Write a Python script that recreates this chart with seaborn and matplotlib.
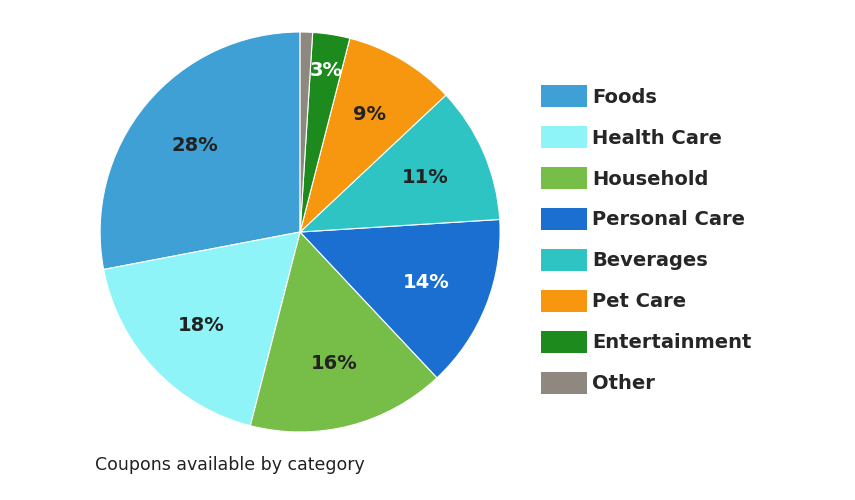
import matplotlib
matplotlib.use("Agg")
import matplotlib.pyplot as plt
import seaborn as sns
import numpy as np
from matplotlib.patches import Patch

categories = ["Foods", "Health Care", "Household", "Personal Care", "Beverages", "Pet Care", "Entertainment", "Other"]
values = [28, 18, 16, 14, 11, 9, 3, 1]
labels = ["28%", "18%", "16%", "14%", "11%", "9%", "3%", ""]
colors = ["#3fa0d5", "#8ef4f7", "#77be48", "#1a6fd0", "#2ec4c4", "#f7960f", "#1d8a1d", "#8e8880"]
label_colors = ["#222222", "#222222", "#222222", "white", "#222222", "#222222", "white", "#222222"]

sns.set_theme(style="white")
pal = sns.color_palette(colors)

fig = plt.figure(figsize=(8.55, 5), dpi=100)
ax = fig.add_axes([0.117, 0.136, 0.468, 0.8])
wedges, texts = ax.pie(values, colors=pal, startangle=90, counterclock=True,
                       wedgeprops=dict(linewidth=0.8, edgecolor="white"))
for w, lab, c in zip(wedges, labels, label_colors):
    ang = np.deg2rad((w.theta1 + w.theta2) / 2)
    r = 0.68 if lab != "3%" else 0.82
    ax.text(r * np.cos(ang), r * np.sin(ang), lab, ha="center", va="center",
            fontsize=14, fontweight="bold", color=c)
ax.set_xlim(-1, 1)
ax.set_ylim(-1, 1)
ax.set_aspect("equal")

handles = [Patch(facecolor=c, edgecolor="none") for c in colors]
fig.legend(handles, categories, loc="upper left", bbox_to_anchor=(0.612, 0.865),
           frameon=False, prop={"weight": "bold", "size": 14},
           handlelength=2.4, handleheight=1.4, labelspacing=0.95, handletextpad=0.25)

fig.text(0.111, 0.06, "Coupons available by category", fontsize=12.5, color="#222222")
fig.savefig("out.png", dpi=100, facecolor="white")
